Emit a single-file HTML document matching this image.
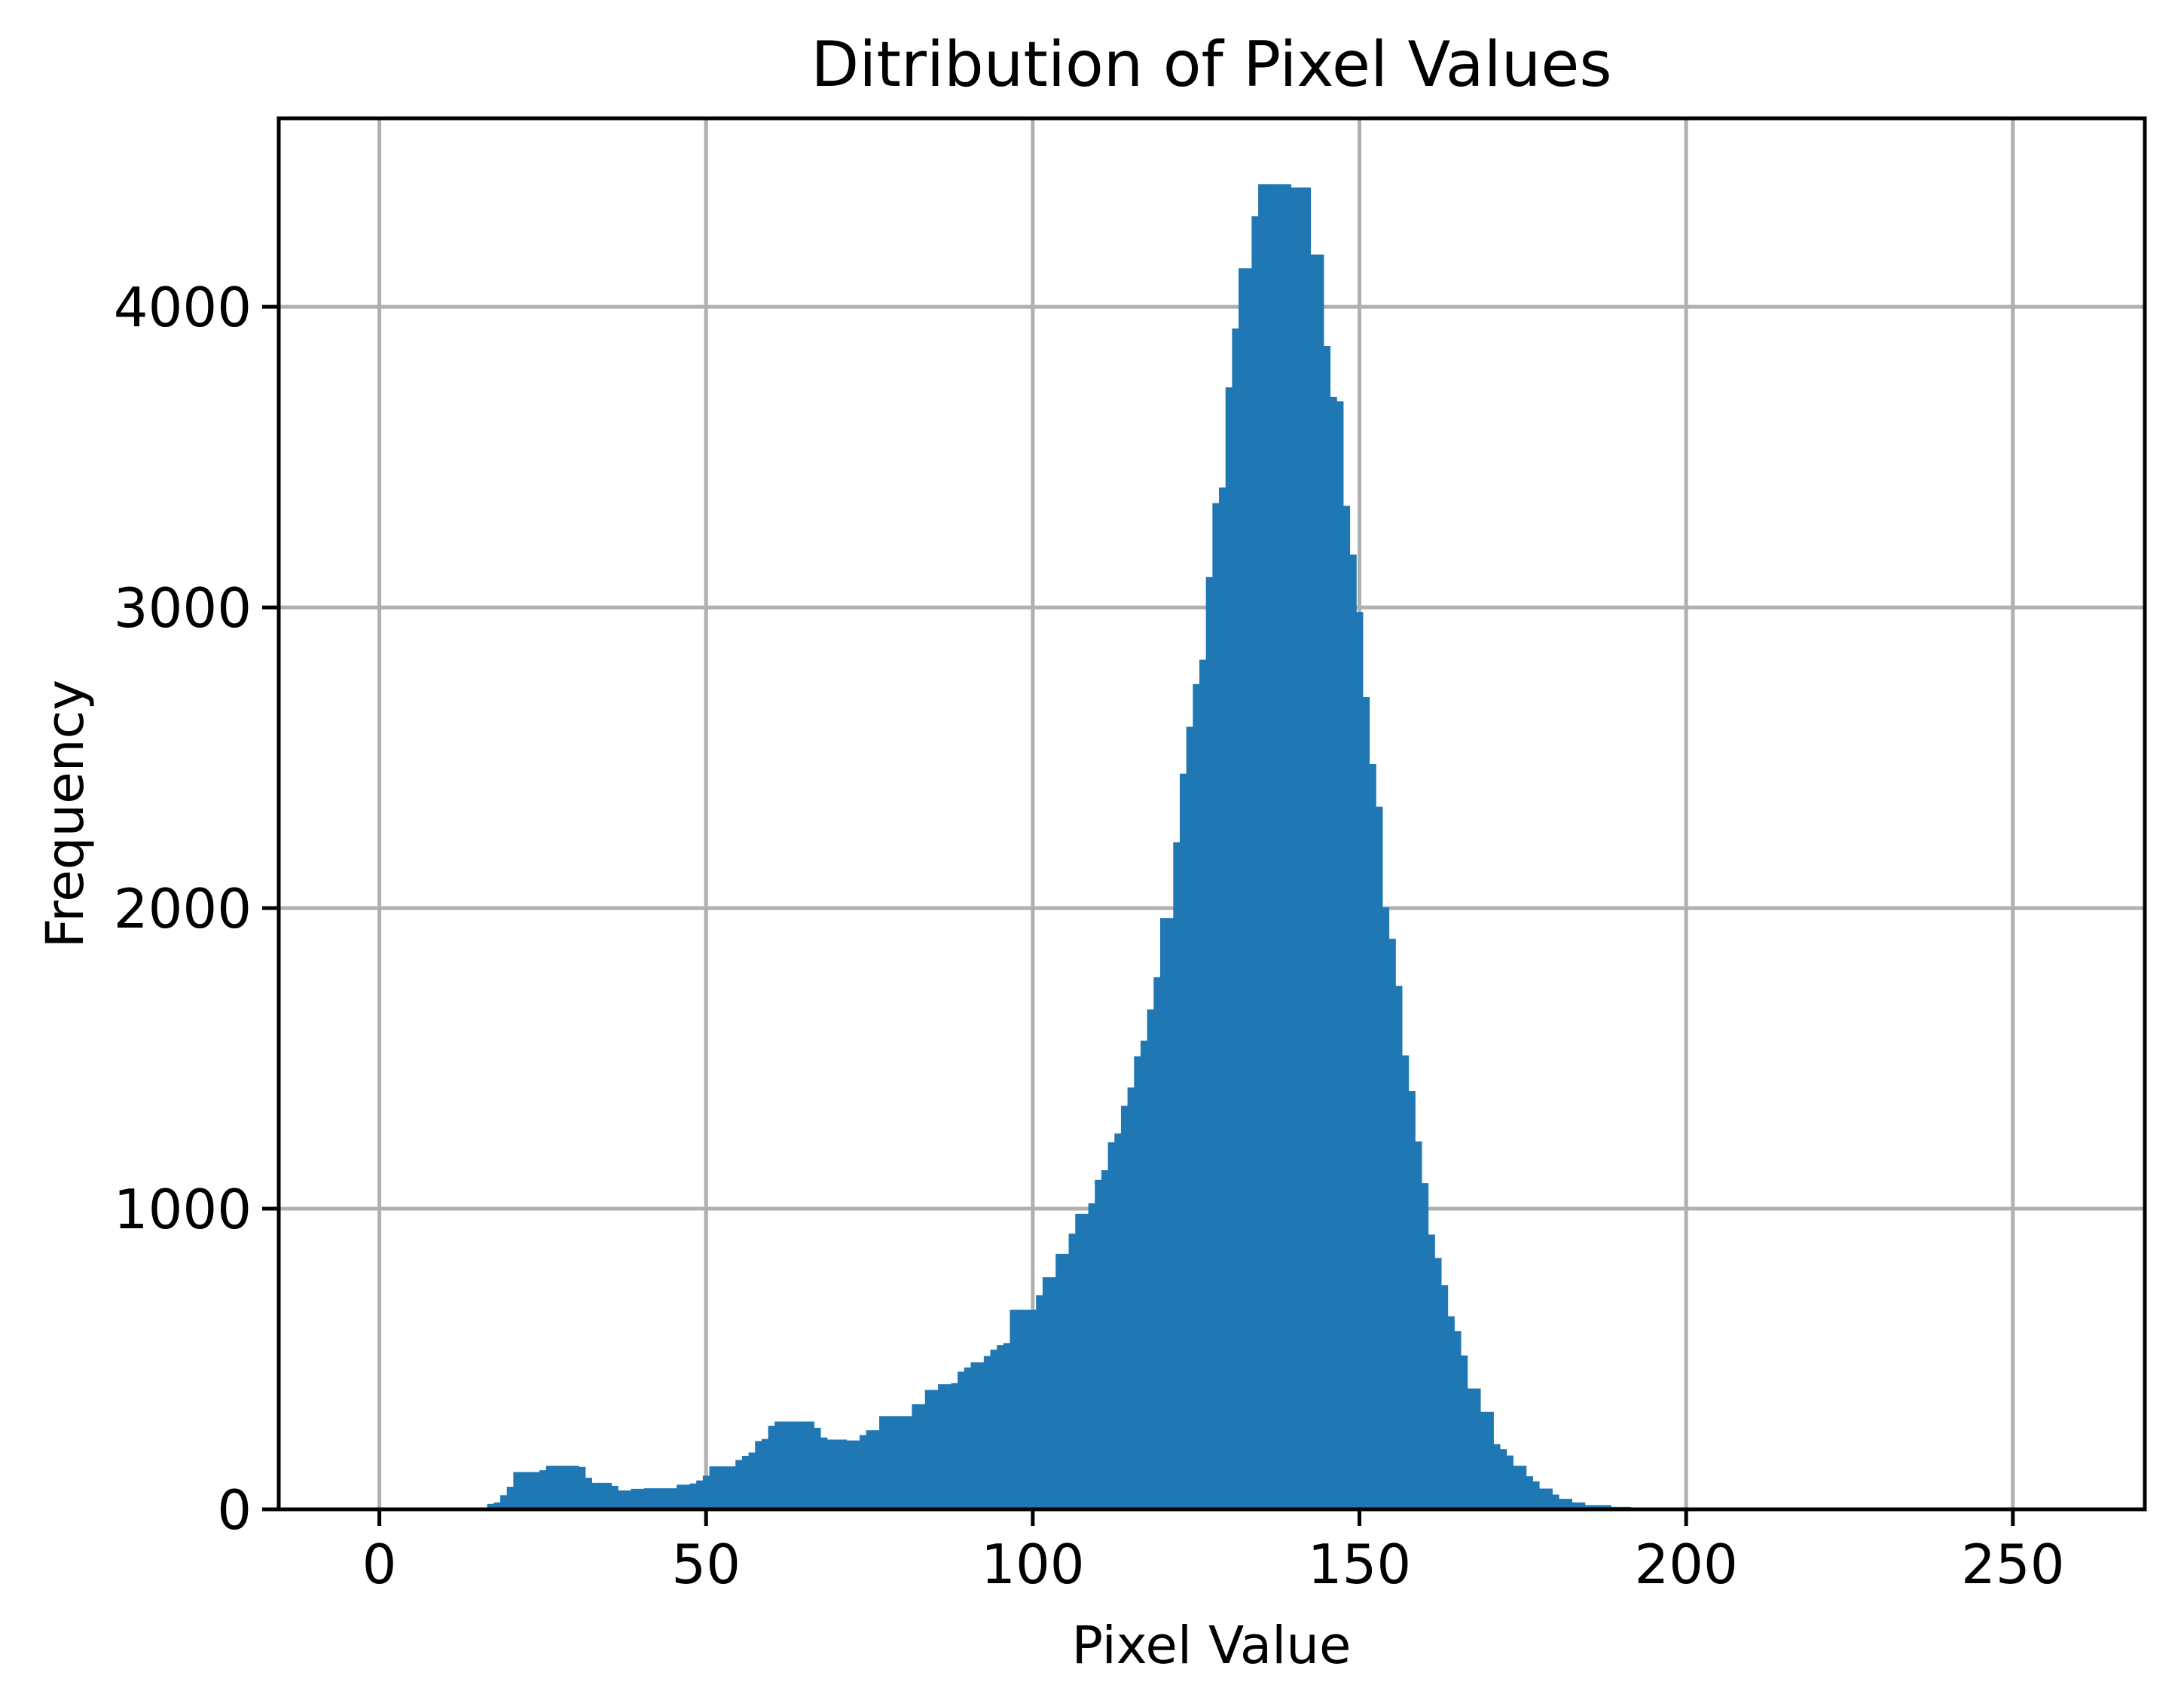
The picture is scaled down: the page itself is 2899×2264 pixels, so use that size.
<!DOCTYPE html>
<html><head><meta charset="utf-8"><title>Ditribution of Pixel Values</title>
<style>html,body{margin:0;padding:0;background:#fff}svg{display:block}text{font-family:"DejaVu Sans","Liberation Sans",sans-serif;fill:#000}</style>
</head><body>
<svg id="chart" width="2899" height="2264" viewBox="0 0 2899 2264" xmlns="http://www.w3.org/2000/svg">
<rect x="0" y="0" width="2899" height="2264" fill="#fff"/>
<g id="grid"></g>
<g id="bars"></g>
<g id="axes"></g>
<text x="1608" y="114" font-size="83" text-anchor="middle">Ditribution of Pixel Values</text>
<text x="1608" y="2207" font-size="69" text-anchor="middle">Pixel Value</text>
<text x="0" y="0" font-size="69" text-anchor="middle" transform="translate(110,1080) rotate(-90)">Frequency</text>
</svg>
<script>
const binStart = 17;
const binValues = [18,23,47,75,124,124,124,124,130,145,145,145,145,145,141,105,88,88,88,78,63,63,68,68,70,70,70,70,70,82,82,86,96,
112,143,143,143,143,164,178,189,227,234,278,292,292,292,292,292,292,271,239,232,232,232,229,229,247,263,263,310,310,310,310,310,350,350,397,397,416,416,420,458,472,489,489,510,531,546,553,664,664,664,664,
712,772,772,850,850,917,983,983,1018,1096,1128,1221,1250,1342,1403,1507,1559,1663,1770,1967,1967,2219,2447,2603,2745,2826,3101,3347,3399,3732,3928,4128,4128,4301,4408,4408,4408,4408,4408,4397,4397,4397,4174,4174,
3870,3700,3686,3338,3176,2985,2702,2479,2337,2002,1898,1741,1510,1391,1224,1085,914,836,746,642,593,512,402,402,324,324,217,200,179,145,145,110,93,69,69,49,35,35,23,23,14,14,14,14,8,8,8,3,3,2,2];
const xTicks = [0,50,100,150,200,250];
const yTicks = [0,1000,2000,3000,4000];
const xTickLabels = ["0","50","100","150","200","250"];
const yTickLabels = ["0","1000","2000","3000","4000"];

const L=370, R=2847, T=157, B=2003;
const xMin=-15.4, xMax=270.2, yMin=0, yMax=4627;
function xs(v){return L+(v-xMin)/(xMax-xMin)*(R-L);}
function ys(v){return B-(v-yMin)/(yMax-yMin)*(B-T);}
const NS="http://www.w3.org/2000/svg";
function mk(tag,attrs,parent){const e=document.createElementNS(NS,tag);for(const k in attrs)e.setAttribute(k,attrs[k]);parent.appendChild(e);return e;}
const grid=document.getElementById('grid'),bars=document.getElementById('bars'),axes=document.getElementById('axes');

xTicks.forEach((t,i)=>{
  const g=mk('line',{x1:xs(t),x2:xs(t),y1:T,y2:B,stroke:'#b0b0b0','stroke-width':5},grid);
  
  
  const tk=mk('line',{x1:xs(t),x2:xs(t),y1:B,y2:B+22,stroke:'#000','stroke-width':5},axes);
  
  
  const tx=mk('text',{x:xs(t),y:B+98,'font-size':72,'text-anchor':'middle'},axes);
  tx.textContent=xTickLabels[i];
  
  
});
yTicks.forEach((t,i)=>{
  const g=mk('line',{x1:L,x2:R,y1:ys(t),y2:ys(t),stroke:'#b0b0b0','stroke-width':5},grid);
  
  
  const tk=mk('line',{x1:L-22,x2:L,y1:ys(t),y2:ys(t),stroke:'#000','stroke-width':5},axes);
  
  
  const tx=mk('text',{x:L-36,y:ys(t)+26,'font-size':72,'text-anchor':'end'},axes);
  tx.textContent=yTickLabels[i];
  
  
});
binValues.forEach((v,i)=>{
  const c=binStart+i;
  const x0=xs(c-0.5),x1=xs(c+0.5);
  const r=mk('rect',{x:x0,y:ys(v),width:x1-x0+0.6,height:ys(0)-ys(v),fill:'#1f77b4'},bars);
  
  
});
const frame=mk('rect',{x:L,y:T,width:R-L,height:B-T,fill:'none',stroke:'#000','stroke-width':5},axes);


</script>
</body></html>
